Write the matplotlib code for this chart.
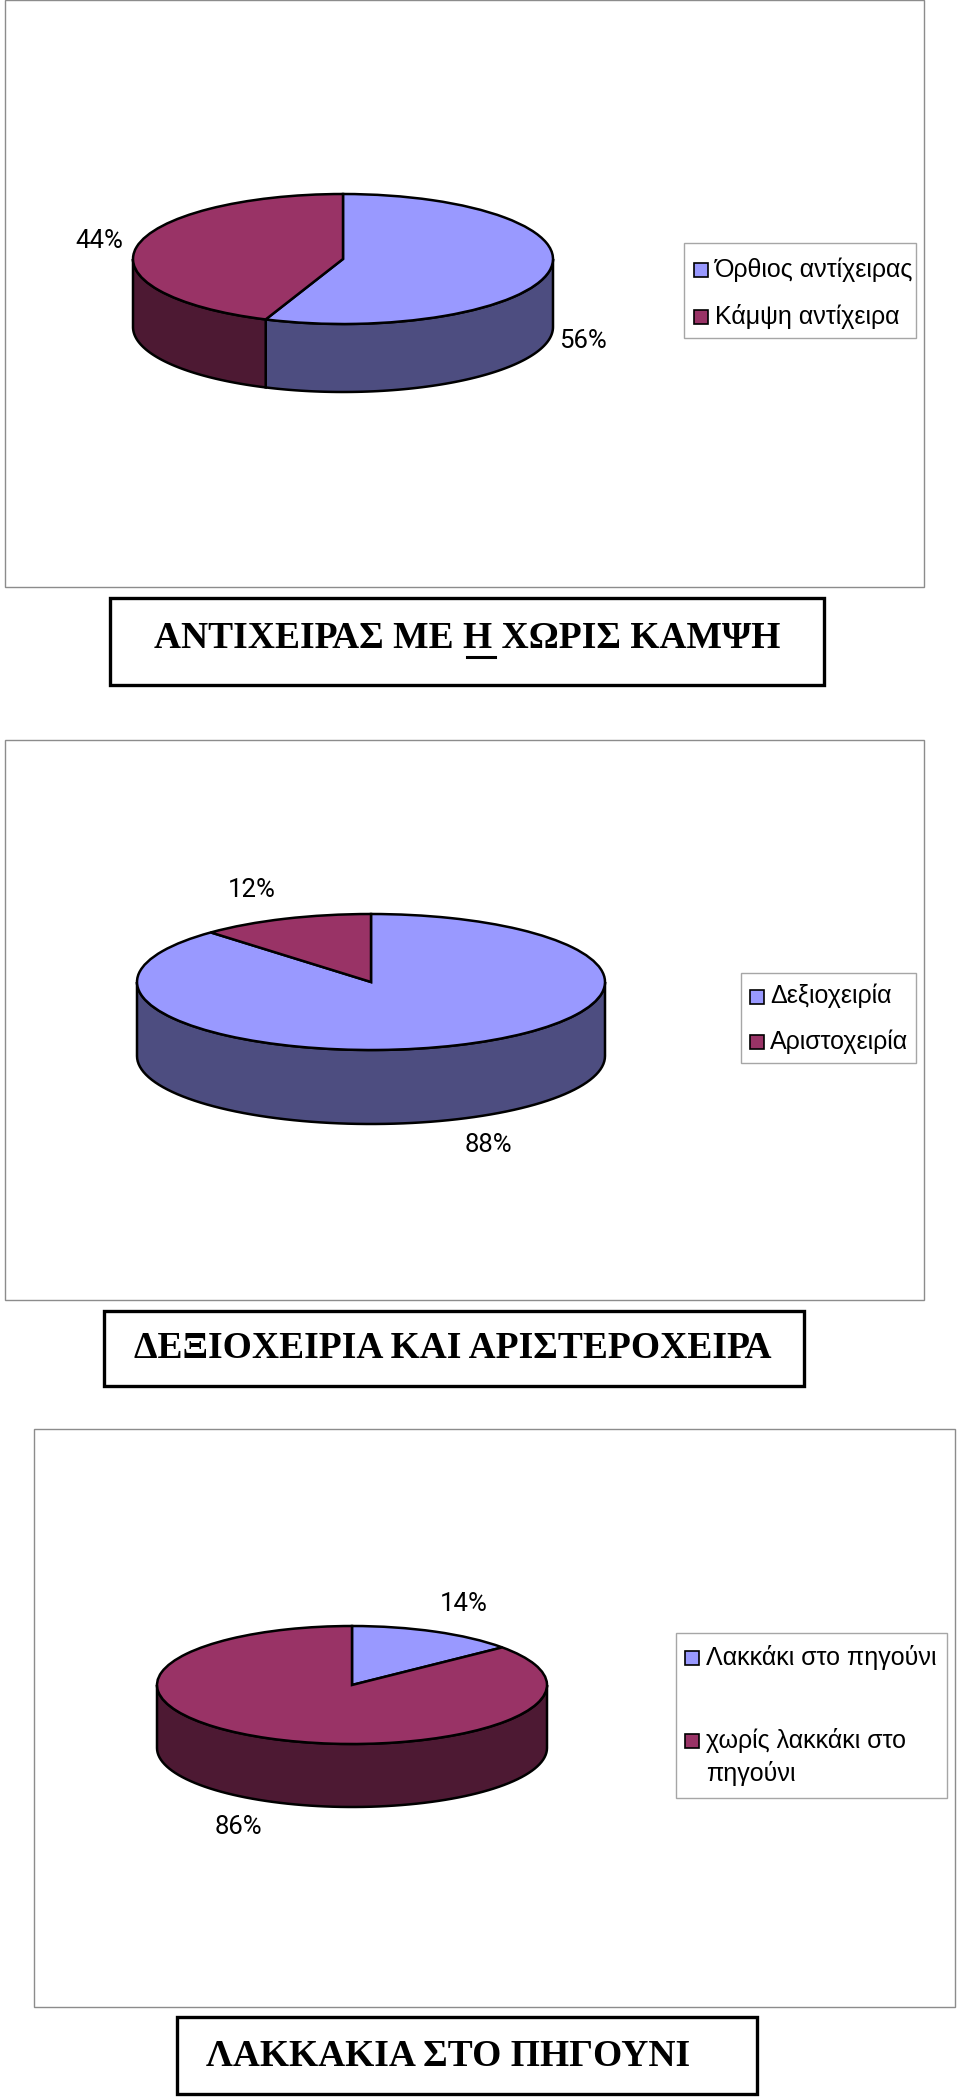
import numpy as np
import matplotlib
matplotlib.use("Agg")
import matplotlib.pyplot as plt
from matplotlib.patches import Rectangle, Polygon

plt.rcParams['font.family'] = ['Liberation Sans', 'DejaVu Sans']

# data
hand_labels = ["Όρθιος αντίχειρας", "Κάμψη αντίχειρα"]
hand_values = [56, 44]
writing_labels = ["Δεξιοχειρία", "Αριστοχειρία"]
writing_values = [88, 12]
chin_labels = ["Λακκάκι στο πηγούνι", "χωρίς λακκάκι στο\nπηγούνι"]
chin_values = [14, 86]

titles = ["ΑΝΤΙΧΕΙΡΑΣ ΜΕ Η ΧΩΡΙΣ ΚΑΜΨΗ",
          "ΔΕΞΙΟΧΕΙΡΙΑ ΚΑΙ ΑΡΙΣΤΕΡΟΧΕΙΡΑ",
          "ΛΑΚΚΑΚΙΑ ΣΤΟ ΠΗΓΟΥΝΙ"]

top_colors = ["#9999FF", "#993366"]
side_colors = ["#4D4D80", "#4D1933"]
GREY = "#8c8c8c"
W, H = 960, 2099

# layout in pixels of the page
panels = [
    dict(labels=hand_labels, values=hand_values, title=titles[0],
         frame=(5, 0, 924, 587), pie=(343, 259, 210, 65, 68),
         legend=(684, 243, 916, 338), keys=[270, 317], key_x=701, text_x=715,
         pct=[(583, 341), (99, 241)],
         box=(110, 598, 824, 685), title_xy=(467, 638)),
    dict(labels=writing_labels, values=writing_values, title=titles[1],
         frame=(5, 740, 924, 1300), pie=(371, 982, 234, 68, 74),
         legend=(741, 973, 916, 1063), keys=[997, 1042], key_x=757, text_x=770,
         pct=[(488, 1145), (252, 890)],
         box=(104, 1311, 804, 1386), title_xy=(453, 1348)),
    dict(labels=chin_labels, values=chin_values, title=titles[2],
         frame=(34, 1429, 955, 2007), pie=(352, 1685, 195, 59, 63),
         legend=(676, 1633, 947, 1798), keys=[1658, 1741], key_x=692, text_x=706,
         pct=[(464, 1604), (238, 1827)],
         box=(177, 2017, 757, 2094), title_xy=(206, 2057)),
]


def draw_pie(fig, values, cx, cy, rx, ry, depth):
    # axes covers the top ellipse plus the wall underneath it
    ax = fig.add_axes([(cx - rx) / W, 1 - (cy + ry + depth) / H,
                       2 * rx / W, (2 * ry + depth) / H])
    lw = 1.8
    ax.pie(values, colors=top_colors, startangle=90, counterclock=False, radius=1,
           wedgeprops=dict(edgecolor="black", linewidth=lw, clip_on=False, zorder=3))
    ax.set_aspect('auto')
    d = depth / ry
    ax.set_xlim(-1, 1)
    ax.set_ylim(-1 - d, 1)

    # front wall, only the part of each slice between 90 and 270 degrees
    edges = np.cumsum([0] + list(values)) / sum(values) * 360
    for i in range(len(values)):
        a0, a1 = max(edges[i], 90), min(edges[i + 1], 270)
        if a1 <= a0:
            continue
        th = np.radians(np.linspace(a0, a1, 80))
        x, y = np.sin(th), np.cos(th)
        pts = np.r_[np.c_[x, y], np.c_[x, y - d][::-1]]
        ax.add_patch(Polygon(pts, closed=True, facecolor=side_colors[i], edgecolor="black",
                             linewidth=lw, clip_on=False, zorder=2))


fig = plt.figure(figsize=(W / 100, H / 100), dpi=100, facecolor="white")
page = fig.add_axes([0, 0, 1, 1])
page.set_xlim(0, W)
page.set_ylim(H, 0)
page.axis("off")

for p in panels:
    x0, y0, x1, y1 = p["frame"]
    page.add_patch(Rectangle((x0, y0), x1 - x0, y1 - y0, fill=False, edgecolor=GREY, linewidth=1.0))

    draw_pie(fig, p["values"], *p["pie"])

    # legend
    x0, y0, x1, y1 = p["legend"]
    page.add_patch(Rectangle((x0, y0), x1 - x0, y1 - y0, facecolor="white", edgecolor="#a6a6a6", linewidth=1.0))
    for k, (lab, ky) in enumerate(zip(p["labels"], p["keys"])):
        page.add_patch(Rectangle((p["key_x"] - 7, ky - 7), 14, 14, facecolor=top_colors[k],
                                 edgecolor="black", linewidth=1.2))
        page.text(p["text_x"], ky - 13, lab, fontsize=18, va="top", ha="left", color="black",
                  linespacing=1.4)

    # percent labels, a bit narrower font than the legend
    for v, (tx, ty) in zip(p["values"], p["pct"]):
        page.text(tx, ty, f"{v}%", fontsize=18.5, ha="center", va="center", color="black",
                  family=["Roboto", "Liberation Sans"])

    # title box
    x0, y0, x1, y1 = p["box"]
    page.add_patch(Rectangle((x0, y0), x1 - x0, y1 - y0, fill=False, edgecolor="black", linewidth=2.4))
    tx, ty = p["title_xy"]
    ha = "left" if p is panels[2] else "center"
    page.text(tx, ty, p["title"], fontsize=27, fontweight="bold", ha=ha, va="center",
              family=["Liberation Serif", "DejaVu Serif"], color="black")

# underlined Η in the first title
page.plot([467, 495], [657, 657], color="black", linewidth=2.2)

fig.savefig("out.png", dpi=100)
